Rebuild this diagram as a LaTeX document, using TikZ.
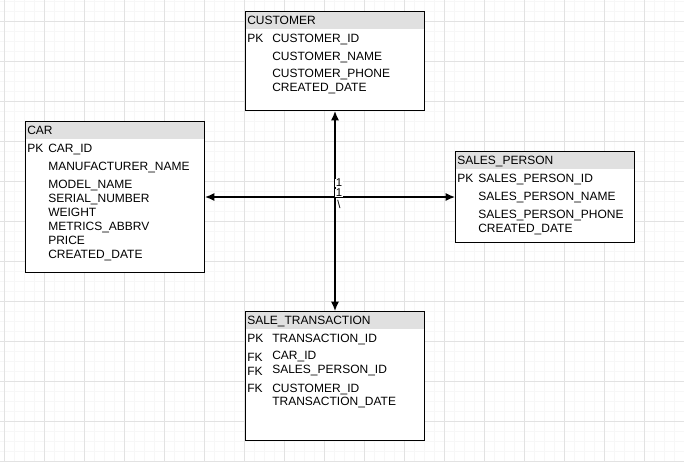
\documentclass[tikz,border=0pt]{standalone}
\usepackage{fontspec}
\setmainfont{Liberation Sans}
\usetikzlibrary{arrows.meta}
\definecolor{hdr}{HTML}{E0E0E0}
\definecolor{gmaj}{HTML}{E2E2E2}
\definecolor{gmin}{HTML}{F7F7F7}
\begin{document}
\begin{tikzpicture}[x=0.75pt,y=-0.75pt,
  minorline/.style={gmin,line width=0.75pt},
  majorline/.style={gmaj,line width=0.75pt},
  tbl/.style={draw=black,line width=0.75pt,anchor=north west,inner sep=0pt,fill=white},
  txt/.style={anchor=base west,inner sep=0pt,font=\fontsize{9}{10}\selectfont,text=black},
  lbl/.style={fill=white,inner sep=0.4pt,font=\fontsize{8.5}{9}\selectfont,text=black},
  conn/.style={line width=1pt,black,{Latex[length=7pt,width=6pt]}-{Latex[length=7pt,width=6pt]}}]
\useasboundingbox (0,0) rectangle (684,462);
\fill[white] (0,0) rectangle (684,462);
% grid
\foreach \i in {0,...,68} \draw[minorline] ({4+10*\i},0) -- ({4+10*\i},462);
\foreach \j in {0,...,46} \draw[minorline] (0,{1+10*\j}) -- (684,{1+10*\j});
\foreach \i in {0,...,17} \draw[majorline] ({4+40*\i},0) -- ({4+40*\i},462);
\foreach \j in {0,...,11} \draw[majorline] (0,{21+40*\j}) -- (684,{21+40*\j});

% CUSTOMER
\node[tbl,minimum width=179*0.75pt,minimum height=99*0.75pt] (cust) at (245,11) {};
\fill[hdr] (245.5,11.5) rectangle (423.5,29);
\draw[line width=0.75pt] (245,11) rectangle (424,110);
\node[txt] (custh) at (247,24) {CUSTOMER};
\node[txt] (cpk) at (247,42) {PK};
\node[txt] (c1) at (272,42) {CUSTOMER\_ID};
\node[txt] (c2) at (272,60) {CUSTOMER\_NAME};
\node[txt] (c3) at (272,77.5) {CUSTOMER\_PHONE};
\node[txt] (c4) at (272,91.5) {CREATED\_DATE};

% CAR
\node[tbl,minimum width=179*0.75pt,minimum height=151*0.75pt] (car) at (25,121) {};
\fill[hdr] (25.5,121.5) rectangle (203.5,139);
\draw[line width=0.75pt] (25,121) rectangle (204,272);
\node[txt] (carh) at (27,134) {CAR};
\node[txt] (apk) at (27,152) {PK};
\node[txt] (a1) at (48,152) {CAR\_ID};
\node[txt] (a2) at (48,170) {MANUFACTURER\_NAME};
\node[txt] (a3) at (48,188) {MODEL\_NAME};
\node[txt] (a4) at (48,202) {SERIAL\_NUMBER};
\node[txt] (a5) at (48,216) {WEIGHT};
\node[txt] (a6) at (48,230) {METRICS\_ABBRV};
\node[txt] (a7) at (48,244) {PRICE};
\node[txt] (a8) at (48,258) {CREATED\_DATE};

% SALES_PERSON
\node[tbl,minimum width=179*0.75pt,minimum height=91*0.75pt] (sp) at (455,151) {};
\fill[hdr] (455.5,151.5) rectangle (633.5,169);
\draw[line width=0.75pt] (455,151) rectangle (634,242);
\node[txt] (sph) at (457,164) {SALES\_PERSON};
\node[txt] (spk) at (457,182) {PK};
\node[txt] (s1) at (478,182) {SALES\_PERSON\_ID};
\node[txt] (s2) at (478,200) {SALES\_PERSON\_NAME};
\node[txt] (s3) at (478,218) {SALES\_PERSON\_PHONE};
\node[txt] (s4) at (478,232) {CREATED\_DATE};

% SALE_TRANSACTION
\node[tbl,minimum width=179*0.75pt,minimum height=129*0.75pt] (st) at (245,311) {};
\fill[hdr] (245.5,311.5) rectangle (423.5,329);
\draw[line width=0.75pt] (245,311) rectangle (424,440);
\node[txt] (sth) at (247,324) {SALE\_TRANSACTION};
\node[txt] (tpk) at (247,342) {PK};
\node[txt] (t1) at (272,342) {TRANSACTION\_ID};
\node[txt] (tfk1) at (247,361) {FK};
\node[txt] (t2) at (272,359.5) {CAR\_ID};
\node[txt] (tfk2) at (247,375.5) {FK};
\node[txt] (t3) at (272,373.5) {SALES\_PERSON\_ID};
\node[txt] (tfk3) at (247,392.5) {FK};
\node[txt] (t4) at (272,392.5) {CUSTOMER\_ID};
\node[txt] (t5) at (272,405.5) {TRANSACTION\_DATE};

% connectors
\draw[conn] (car.east) -- (sp.west);
\draw[conn] (cust.south) -- (st.north);
\node[lbl] (l1) at (339,183) {1};
\node[lbl] (l2) at (339,193) {1};
\node[lbl] (l3) at (339,204) {\textbackslash};
\end{tikzpicture}
\end{document}
